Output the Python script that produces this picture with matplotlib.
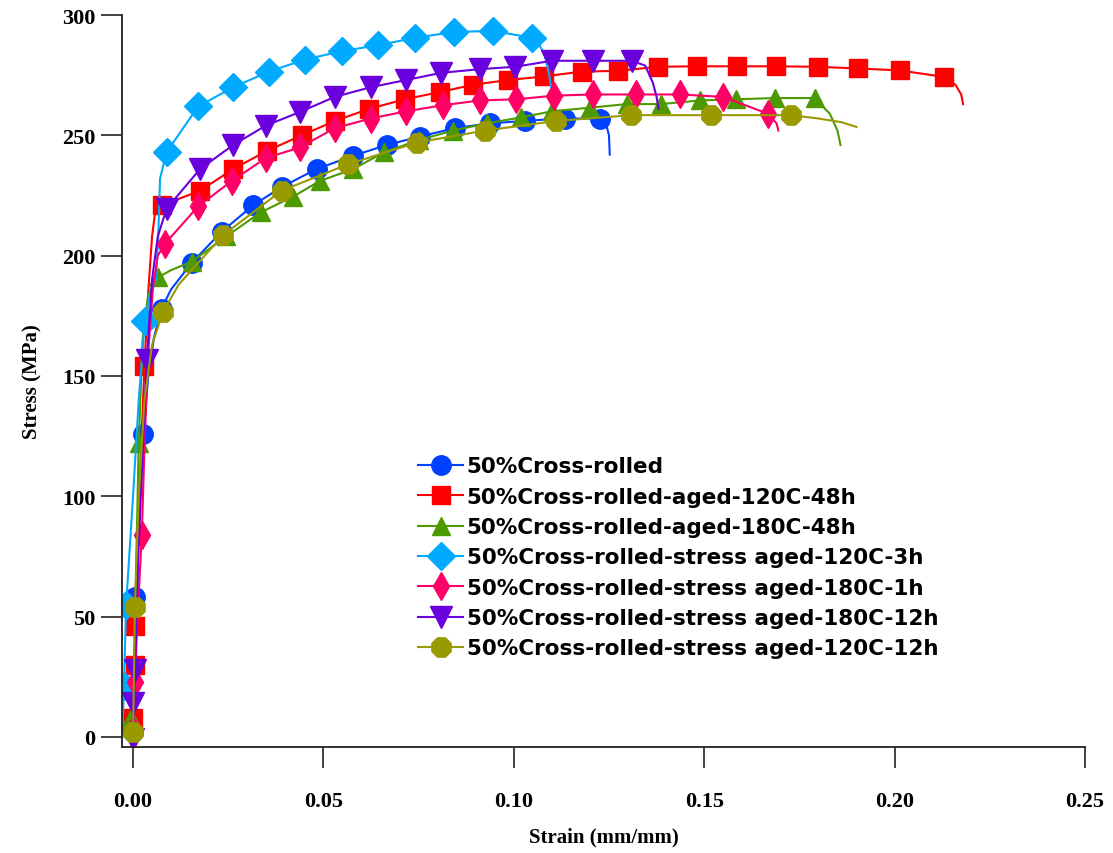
import matplotlib.pyplot as plt
from matplotlib.legend_handler import HandlerTuple

# strain (mm/mm) / stress (MPa)
cr_x = [0, 0.0003, 0.0008, 0.0015, 0.0027, 0.004, 0.0055, 0.0075, 0.010, 0.0154, 0.0233, 0.0316, 0.039,
        0.0482, 0.0578, 0.0666, 0.0753, 0.0845, 0.0937, 0.103, 0.1123, 0.1215, 0.1240, 0.1250, 0.1252]
cr_y = [0, 30, 58, 95, 126, 150, 166, 178, 186, 197, 210, 221, 228.5,
        236, 241.5, 246, 249.5, 253, 255, 256, 257, 257, 256, 250, 242]
cr_mx = [0, 0.0005, 0.0027, 0.0075, 0.0154, 0.0233, 0.0316, 0.039, 0.0482, 0.0578, 0.0666, 0.0753,
         0.0845, 0.0937, 0.103, 0.1134, 0.1226]
cr_my = [2, 58, 126, 178, 197, 210, 221, 228.5, 236, 241.5, 246, 249.5, 253, 255, 256, 257, 257]

a120_x = [0, 0.0003, 0.001, 0.002, 0.003, 0.004, 0.005, 0.0058, 0.0077, 0.0176, 0.0263, 0.0351, 0.0443,
          0.053, 0.062, 0.0714, 0.0806, 0.0892, 0.0985, 0.108, 0.1178, 0.1274, 0.1378, 0.148, 0.1586,
          0.1688, 0.1798, 0.1903, 0.2013, 0.213, 0.216, 0.2175, 0.218]
a120_y = [0, 30, 70, 115, 154, 185, 208, 218, 221, 227, 236, 243.5, 250,
          256, 261, 265, 268, 271, 273, 274.5, 276.5, 276.8, 278.5, 278.7, 278.7,
          278.7, 278.5, 277.8, 277, 274.3, 271, 267, 263]
a120_mx = [0, 0.0005, 0.0005, 0.003] + a120_x[8:30]
a120_my = [8, 30, 46, 154] + a120_y[8:30]

a180_x = [0, 0.0003, 0.0008, 0.0015, 0.0025, 0.004, 0.0066, 0.010, 0.0154, 0.0245, 0.0335, 0.042, 0.049,
          0.0578, 0.066, 0.075, 0.084, 0.093, 0.102, 0.110, 0.120, 0.1296, 0.1387, 0.1488, 0.1584,
          0.1685, 0.179, 0.183, 0.185, 0.1858]
a180_y = [0, 25, 70, 122, 165, 184, 191, 194, 197.5, 208, 218, 224.5, 231,
          236, 243, 248, 252, 255, 257.5, 260, 261.5, 263, 263, 264.5, 265,
          265.5, 265.5, 259, 252, 246]
a180_mx = [-0.0005, 0.0015, 0.0066] + a180_x[8:27]
a180_my = [8, 122, 191] + a180_y[8:27]

s120_3_x = [-0.0028, -0.0024, -0.0018, 0.0, 0.0015, 0.0031, 0.0045, 0.006, 0.0066, 0.0071, 0.0088,
            0.0171, 0.0263, 0.0357, 0.0451, 0.0549, 0.0644, 0.074, 0.0843, 0.0945, 0.1047,
            0.1065, 0.108, 0.1092, 0.110]
s120_3_y = [0, 21, 55, 100, 140, 173, 184, 190, 207, 232, 243,
            262, 270, 276.5, 281.5, 285, 287.5, 290.5, 293, 293.4, 290.6,
            288, 284, 276, 268]
s120_3_mx = [-0.0024, -0.0018, 0.0031] + s120_3_x[10:21]
s120_3_my = [21, 55, 173] + s120_3_y[10:21]

s180_1_x = [0, 0.0005, 0.0012, 0.0023, 0.003, 0.004, 0.0052, 0.0065, 0.0084, 0.0171, 0.0259, 0.0348,
            0.0438, 0.053, 0.0624, 0.0717, 0.0813, 0.091, 0.1007, 0.1105, 0.1207, 0.132, 0.1436,
            0.155, 0.1667, 0.169, 0.1695]
s180_1_y = [0, 23, 50, 84, 120, 160, 186, 200, 205, 220.5, 231, 240.5,
            245, 253, 257, 260, 262.5, 264.5, 265, 266.5, 267, 267, 267,
            266, 259, 255, 252]
s180_1_mx = [0, 0.0005, 0.0023] + s180_1_x[8:25]
s180_1_my = [3, 23, 84] + s180_1_y[8:25]

s180_12_x = [0, 0.0002, 0.0005, 0.0015, 0.0036, 0.005, 0.0065, 0.0088, 0.0176, 0.0263, 0.0348, 0.0438,
             0.053, 0.0624, 0.0717, 0.081, 0.091, 0.1003, 0.110, 0.1207, 0.131, 0.1345, 0.1365,
             0.1375, 0.138]
s180_12_y = [0, 14, 28, 80, 156.5, 190, 208, 219.5, 236, 246, 254, 259.7,
             266, 270, 273, 276, 277.5, 278.5, 281, 281, 281, 279, 272,
             266, 261]
s180_12_mx = [0, 0, 0.0005, 0.0036] + s180_12_x[7:21]
s180_12_my = [-1, 14, 28, 156.5] + s180_12_y[7:21]

s120_12_x = [0, 0.0005, 0.0015, 0.003, 0.005, 0.0079, 0.012, 0.0237, 0.039, 0.0565, 0.0745, 0.0924,
             0.1112, 0.1309, 0.1519, 0.1729, 0.180, 0.186, 0.190]
s120_12_y = [0, 54, 100, 140, 163, 176.7, 188, 208.6, 227, 238, 247, 252,
             256, 258.4, 258.4, 258.4, 257, 255.5, 253.5]
s120_12_mx = [0, 0.0005] + s120_12_x[5:6] + s120_12_x[7:16]
s120_12_my = [2, 54] + s120_12_y[5:6] + s120_12_y[7:16]

labels = ['50%Cross-rolled', '50%Cross-rolled-aged-120C-48h', '50%Cross-rolled-aged-180C-48h',
          '50%Cross-rolled-stress aged-120C-3h', '50%Cross-rolled-stress aged-180C-1h',
          '50%Cross-rolled-stress aged-180C-12h', '50%Cross-rolled-stress aged-120C-12h']

series = [
    (cr_x, cr_y, cr_mx, cr_my, '#0040FF', 'o', 14),
    (a120_x, a120_y, a120_mx, a120_my, '#FF0000', 's', 13.5),
    (a180_x, a180_y, a180_mx, a180_my, '#4C9A00', '^', 13.5),
    (s120_3_x, s120_3_y, s120_3_mx, s120_3_my, '#00AAFF', 'D', 14.3),
    (s180_1_x, s180_1_y, s180_1_mx, s180_1_my, '#FF0066', 'd', 14),
    (s180_12_x, s180_12_y, s180_12_mx, s180_12_my, '#6A00DD', 'v', 16),
    (s120_12_x, s120_12_y, s120_12_mx, s120_12_my, '#999900', (8, 0, 22.5), 15),
]

fig = plt.figure(figsize=(11.13, 8.54), dpi=100)
ax = fig.add_axes([0.1096, 0.1241, 0.8652, 0.8571])

handles = []
for x, y, mx, my, c, m, ms in series:
    ln, = ax.plot(x, y, color=c, lw=1.5)
    mk, = ax.plot(mx, my, ls='none', marker=m, ms=ms, color=c, mec=c)
    handles.append((ln, mk))

ax.set_xlim(-0.0029, 0.25)
ax.set_ylim(-4.2, 300)
ax.set_xticks([0, 0.05, 0.10, 0.15, 0.20, 0.25])
ax.set_xticklabels(['0.00', '0.05', '0.10', '0.15', '0.20', '0.25'])
ax.set_yticks([0, 50, 100, 150, 200, 250, 300])

for s in ['top', 'right']:
    ax.spines[s].set_visible(False)
for s in ['left', 'bottom']:
    ax.spines[s].set_linewidth(1.3)
    ax.spines[s].set_color('#222222')

ax.tick_params(direction='out', length=15, width=1.2, color='#222222')
ax.tick_params(axis='x', pad=17)
ax.tick_params(axis='y', pad=4)
for lab in ax.get_xticklabels() + ax.get_yticklabels():
    lab.set_family('Liberation Serif')
    lab.set_fontweight('bold')
    lab.set_fontsize(16)

ax.set_xlabel('Strain (mm/mm)', family='Liberation Serif', fontweight='bold', fontsize=15, labelpad=11)
ax.set_ylabel('Stress (MPa)', family='Liberation Serif', fontweight='bold', fontsize=15, labelpad=14)

ax.legend(handles, labels, handler_map={tuple: HandlerTuple(ndivide=1)},
          loc='upper left', bbox_to_anchor=(0.3584, 0.487), bbox_transform=fig.transFigure,
          frameon=False, handlelength=2.1, labelspacing=0.48, handletextpad=0.15,
          prop={'family': 'DejaVu Sans', 'weight': 'bold', 'size': 15.5})

fig.savefig('out.png', dpi=100)
